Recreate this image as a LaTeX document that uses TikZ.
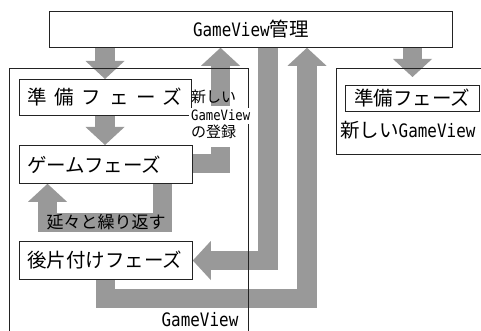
\documentclass[tikz,border=0pt]{standalone}
\usepackage{fontspec}
\setmainfont{Noto Sans CJK JP}
\newfontfamily\mono[Scale=0.95,FakeStretch=0.86]{DejaVu Sans Mono}
\usetikzlibrary{arrows.meta,backgrounds}
\definecolor{agray}{RGB}{153,153,153}
\definecolor{edge}{RGB}{35,35,35}
\tikzset{
  frame/.style={draw=edge, line width=0.8pt, inner sep=0pt, anchor=north west},
  phase/.style={frame, fill=white, align=left, inner xsep=8pt, inner ysep=0pt,
    font=\fontsize{19.5}{22}\selectfont},
  fat/.style={draw=agray, line width=19.5pt, line join=miter,
    -{Triangle[width=39pt,length=18pt,line width=0pt]}},
  txt/.style={inner sep=0pt, text=black},
}
\begin{document}
\begin{tikzpicture}[x=1pt,y=-1pt]
\useasboundingbox (0,0) rectangle (481,331);
% boxes
\node[frame, fill=white, minimum width=403pt, minimum height=36pt,
      font=\fontsize{19.5}{22}\selectfont] (mgr) at (49,11) {{\mono GameView}管理};
\node[frame, minimum width=239pt, minimum height=280pt] (lgv) at (9,68) {};
\node[frame, minimum width=160pt, minimum height=86pt] (rgv) at (336,68) {};
\node[phase, text width=156pt, minimum height=36pt] (Lprep) at (19,79)
  {\addfontfeatures{LetterSpace=40}準備フェーズ};
\node[phase, text width=157pt, minimum height=38pt] (Lgame) at (19,145) {ゲームフェーズ};
\node[phase, text width=157pt, minimum height=38pt] (Lclean) at (19,241) {後片付けフェーズ};
\node[phase, inner xsep=9pt, text width=116pt, minimum height=26pt] (Rprep) at (345,85) {準備フェーズ};
\node[txt, anchor=west, font=\fontsize{19.5}{22}\selectfont] (rnew) at (340,130) {新しい{\mono GameView}};
\node[txt, font=\fontsize{19.5}{22}\selectfont\mono] (gvlab) at (200,319.5) {GameView};
% helper coordinates
\coordinate (xA) at (105,0);
\coordinate (xA2) at (105.5,0);
\coordinate (xB) at (220.5,0);
\coordinate (yB) at (0,163.5);
\coordinate (xC) at (268,0);
\coordinate (yC) at (0,260.5);
\coordinate (xD) at (307,0);
\coordinate (yD) at (0,298.5);
\coordinate (xE) at (412.5,0);
\coordinate (tipE) at (412.5,77);
\coordinate (xF1) at (162.5,0);
\coordinate (xF2) at (47.5,0);
\coordinate (yF) at (0,222.5);
\begin{pgfonlayer}{background}
  \fill[white] (0,0) rectangle (481,331);
  \draw[fat] (xA |- mgr.south) -- (xA |- Lprep.north);
  \draw[fat] (xA |- Lprep.south) -- (xA |- Lgame.north);
  \draw[fat] (Lgame.east |- yB) -- (xB |- yB) -- (xB |- mgr.south);
  \draw[fat] (xC |- mgr.south) -- (xC |- yC) -- (Lclean.east |- yC);
  \draw[fat] (xA2 |- Lclean.south) -- (xA2 |- yD) -- (xD |- yD) -- (xD |- mgr.south);
  \draw[fat] (xE |- mgr.south) -- (tipE);
  \draw[fat] (xF1 |- Lgame.south) -- (xF1 |- yF) -- (xF2 |- yF) -- (xF2 |- Lgame.south);
\end{pgfonlayer}
% labels over arrows
\fill[white] (205,106) rectangle (236,147);
\fill[white] (189,108) rectangle (253,124);
\node[txt, anchor=north west, align=left, font=\fontsize{15}{17.5}\selectfont] (reg) at (191,90)
  {新しい\\{\mono GameView}\\の登録};
\node[txt, font=\fontsize{17}{20}\selectfont] (loop) at (106,222.5) {延々と繰り返す};
\end{tikzpicture}
\end{document}
